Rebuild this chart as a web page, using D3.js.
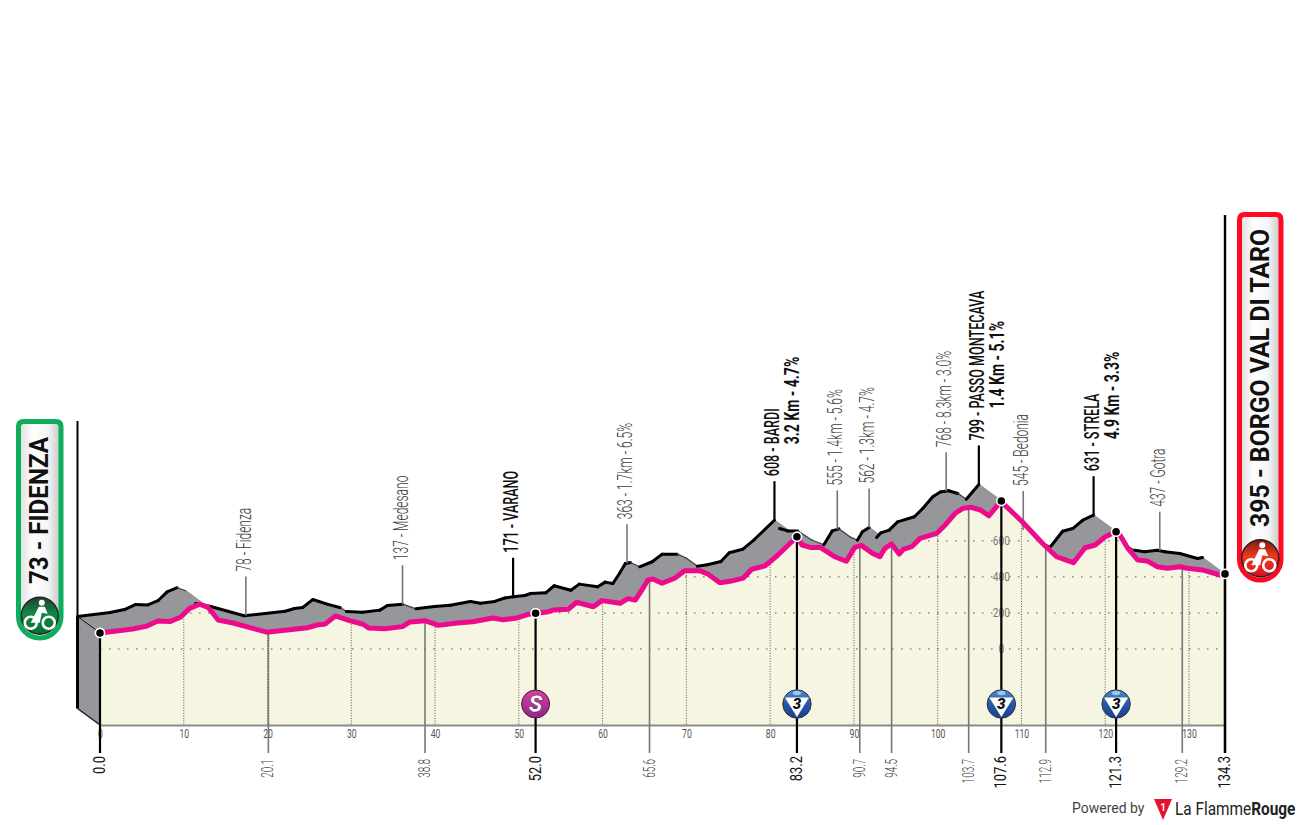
<!DOCTYPE html>
<html>
<head>
<meta charset="utf-8">
<title>Fidenza - Borgo Val di Taro</title>
<script src="https://cdn.jsdelivr.net/npm/d3@7"></script>
<style>
html, body { margin: 0; padding: 0; background: #fff; }
svg { display: block; }
text { font-family: Roboto, "Liberation Sans", sans-serif; }
</style>
</head>
<body>
<svg></svg>
<script>
// profile: km and altitude in metres
var profileKm = [0, 3.9, 5.6, 6.9, 8.4, 9.6, 10.7, 11.9, 12.9, 14.1, 15.9, 19.9, 24.8, 25.9, 26.9, 28.1, 29.8, 31.4, 32.1, 34.0,
    36.1, 37.0, 38.8, 40.4, 42.6, 44.5, 46.9, 48.1, 49.8, 51.0, 52.0, 53.4, 54.1, 55.9, 56.9, 58.9, 59.9, 62.1, 63.0, 63.9,
    64.7, 65.4, 66.0, 67.1, 68.6, 69.8, 71.6, 72.6, 74.0, 75.2, 76.8, 77.8, 79.4, 80.8, 83.2, 83.8, 84.8, 86.0, 87.7, 89.1,
    90.1, 90.9, 92.2, 93.1, 93.7, 94.5, 95.4, 95.9, 96.9, 97.9, 99.9, 100.9, 102.1, 103.0, 104.0, 105.1, 106.1, 107.6, 108.0, 110.1,
    112.5, 114.2, 116.2, 117.6, 118.8, 120.0, 121.3, 121.8, 122.7, 123.9, 125.0, 126.2, 127.4, 128.9, 129.8, 131.6, 133.7, 134.3];
var profileAlt = [89, 111, 127, 155, 153, 176, 225, 248, 231, 161, 144, 93, 118, 133, 139, 183, 157, 137, 116, 112,
    124, 150, 157, 131, 144, 151, 172, 162, 172, 191, 198, 205, 216, 220, 259, 234, 268, 253, 279, 271,
    327, 382, 388, 364, 392, 434, 434, 414, 367, 375, 393, 442, 461, 515, 622, 576, 563, 563, 511, 486,
    563, 574, 530, 511, 558, 582, 526, 552, 567, 613, 641, 687, 752, 779, 785, 770, 738, 820, 798, 705,
    586, 511, 478, 561, 576, 622, 650, 628, 558, 493, 488, 456, 447, 456, 447, 438, 410, 416];

// km marks under the axis and what is written above them
var markKm = [0, 20.1, 38.8, 52.0, 65.6, 83.2, 90.7, 94.5, 103.7, 107.6, 112.9, 121.3, 129.2, 134.3];
var markLabel = ["0.0", "20.1", "38.8", "52.0", "65.6", "83.2", "90.7", "94.5", "103.7", "107.6", "112.9", "121.3", "129.2", "134.3"];
var markStrong = [1, 0, 0, 1, 0, 1, 0, 0, 0, 1, 0, 1, 0, 1];
var placeName = ["", "78 - Fidenza", "137 - Medesano", "171 - VARANO", "363 - 1.7km - 6.5%", "608 - BARDI", "555 - 1.4km - 5.6%",
    "562 - 1.3km - 4.7%", "768 - 8.3km - 3.0%", "799 - PASSO MONTECAVA", "545 - Bedonia", "631 - STRELA", "437 - Gotra", ""];
var placeClimb = ["", "", "", "", "", "3.2 Km - 4.7%", "", "", "", "1.4 Km - 5.1%", "", "4.9 Km - 3.3%", "", ""];

var kmTicks = d3.range(0, 131, 10);
var altTicks = [0, 200, 400, 600];
var dotKm = [0, 52.0, 83.2, 107.6, 121.3, 134.3];
var sprintKm = [52.0];
var climbKm = [83.2, 107.6, 121.3];
var startText = "73 - FIDENZA";
var finishText = "395 - BORGO VAL DI TARO";

var svgWidth = 1300, svgHeight = 825;
var svg = d3.select("svg").attr("width", svgWidth).attr("height", svgHeight);

var x = d3.scaleLinear().domain([0, 134.3]).range([100, 1225]);
var y = d3.scaleLinear().domain([0, 600]).range([649, 540.7]);
var altAt = d3.scaleLinear().domain(profileKm).range(profileAlt);

var floorAlt = -421;           // altitude of the bottom line
var dx = -22.5, dy = -16.5;    // shift of the grey back edge
var spikeEnd = 753;

var pts = profileKm.map(function(k, i) { return { km: k, alt: profileAlt[i] }; });
var line = d3.line().x(function(d) { return x(d.km); }).y(function(d) { return y(d.alt); });
var area = d3.area().x(function(d) { return x(d.km); }).y0(y(floorAlt)).y1(function(d) { return y(d.alt); });

var defs = svg.append("defs");
defs.append("clipPath").attr("id", "under").append("path").attr("d", area(pts));

function grad(id, tag, stops, attrs) {
    var g = defs.append(tag).attr("id", id);
    for (var a in attrs) g.attr(a, attrs[a]);
    stops.forEach(function(s) {
        g.append("stop").attr("offset", s[0]).attr("stop-color", s[1]);
    });
}
grad("pillFill", "linearGradient", [[0, "#dcdcdc"], [0.35, "#ffffff"], [0.7, "#f4f4f4"], [1, "#c4c4c4"]], { x1: 0, x2: 1, y1: 0, y2: 0 });
grad("startBall", "linearGradient", [[0, "#2a3d30"], [0.45, "#0f8a45"], [1, "#0a6a33"]], { x1: 0, x2: 0, y1: 0, y2: 1 });
grad("finishBall", "linearGradient", [[0, "#7a1a14"], [0.45, "#f03b1c"], [1, "#d80f25"]], { x1: 0, x2: 0, y1: 0, y2: 1 });
grad("sprintBall", "linearGradient", [[0, "#e03aa4"], [1, "#8f2490"]], { x1: 0, x2: 0, y1: 0, y2: 1 });
grad("climbBall", "linearGradient", [[0, "#4f8fd0"], [0.5, "#2458a8"], [1, "#1d3f8e"]], { x1: 0, x2: 0, y1: 0, y2: 1 });

// rotated, condensed text
function vText(px, py, txt, size, weight, fill, anchor, squeeze) {
    return svg.append("text")
        .attr("transform", "translate(" + px + "," + py + ") rotate(-90) scale(" + squeeze + ",1)")
        .attr("font-size", size)
        .attr("font-weight", weight)
        .attr("fill", fill)
        .attr("text-anchor", anchor || "start")
        .text(txt);
}

// grey extruded band
var band = svg.append("g");
d3.pairs(pts).forEach(function(p) {
    var x0 = x(p[0].km), y0 = y(p[0].alt), x1 = x(p[1].km), y1 = y(p[1].alt);
    band.append("path")
        .attr("d", d3.line()([[x0, y0], [x1, y1], [x1 + dx, y1 + dy], [x0 + dx, y0 + dy]]) + "Z")
        .attr("fill", "#96979b")
        .attr("stroke", "#96979b")
        .attr("stroke-width", 1.2)
        .attr("stroke-linejoin", "round");
});

// side face at the start
svg.append("path")
    .attr("d", d3.line()([[x(0), y(pts[0].alt)], [x(0) + dx, y(pts[0].alt) + dy], [x(0) + dx, y(floorAlt) + dy], [x(0), y(floorAlt)]]))
    .attr("fill", "#96979b")
    .attr("stroke", "none");
svg.append("path")
    .attr("d", d3.line()([[x(0), y(pts[0].alt)], [x(0) + dx, y(pts[0].alt) + dy]]))
    .attr("stroke", "#111").attr("stroke-width", 1);
svg.append("path")
    .attr("d", d3.line()([[x(0) + dx, y(floorAlt) + dy], [x(0), y(floorAlt)]]))
    .attr("stroke", "#111").attr("stroke-width", 1.2);
svg.append("line")
    .attr("x1", x(0) + dx).attr("x2", x(0) + dx).attr("y1", 421).attr("y2", y(pts[0].alt) + dy)
    .attr("stroke", "#000").attr("stroke-width", 2);
svg.append("line")
    .attr("x1", x(0) + dx).attr("x2", x(0) + dx).attr("y1", y(pts[0].alt) + dy).attr("y2", y(floorAlt) + dy)
    .attr("stroke", "#000").attr("stroke-width", 3);

// black edge, only where the slope faces the viewer
d3.pairs(pts).forEach(function(p) {
    var x0 = x(p[0].km), y0 = y(p[0].alt), x1 = x(p[1].km), y1 = y(p[1].alt);
    var slope = (y1 - y0) / (x1 - x0);
    if (slope > 0.73) return;
    svg.append("line")
        .attr("x1", x0 + dx).attr("y1", y0 + dy).attr("x2", x1 + dx).attr("y2", y1 + dy)
        .attr("stroke", slope > 0.35 ? "#444" : "#000")
        .attr("stroke-width", slope > 0.35 ? 1.2 : 3)
        .attr("stroke-linecap", "round");
});

// cream face
svg.append("path").attr("d", area(pts)).attr("fill", "#f5f5e2");

// dotted grid, clipped to the face
var grid = svg.append("g").attr("clip-path", "url(#under)");
grid.selectAll("line.alt").data(altTicks).enter().append("line")
    .attr("class", "alt")
    .attr("x1", x(0)).attr("x2", x(134.3))
    .attr("y1", function(d) { return y(d); }).attr("y2", function(d) { return y(d); })
    .attr("stroke", "#8a8a80").attr("stroke-width", 1.5).attr("stroke-dasharray", "1.5 7.5");
grid.selectAll("line.km").data(kmTicks.slice(1)).enter().append("line")
    .attr("class", "km")
    .attr("x1", function(d) { return x(d); }).attr("x2", function(d) { return x(d); })
    .attr("y1", y(900)).attr("y2", y(floorAlt))
    .attr("stroke", "#55554e").attr("stroke-width", 1).attr("stroke-dasharray", "1 1.6");

// bottom axis, km numbers
var axisKm = svg.append("g")
    .attr("transform", "translate(0," + y(floorAlt) + ")")
    .call(d3.axisBottom(x).tickValues(kmTicks).tickSize(0).tickPadding(0).tickFormat(d3.format("d")));
axisKm.select(".domain").attr("stroke", "#8c8c84").attr("stroke-width", 2);
axisKm.selectAll("text")
    .attr("font-family", "Roboto")
    .attr("font-size", 12)
    .attr("fill", "#555")
    .attr("y", 0)
    .attr("dy", 0)
    .attr("transform", "translate(0,13) scale(0.72,1)");

// altitude numbers sit on the climb spike
var axisAlt = svg.append("g")
    .attr("transform", "translate(" + x(107.6) + ",0)")
    .call(d3.axisRight(y).tickValues(altTicks).tickSize(0).tickPadding(0).tickFormat(d3.format("d")));
axisAlt.select(".domain").remove();
axisAlt.selectAll("text")
    .attr("font-family", "Roboto")
    .attr("font-size", 12)
    .attr("fill", "#777")
    .attr("x", 0)
    .attr("text-anchor", "middle")
    .attr("transform", "scale(0.85,1)");

// spikes, leaders and labels
markKm.forEach(function(k, i) {
    var strong = markStrong[i] === 1;
    var colour = strong ? "#000" : "#777";
    var px = x(k), py = y(altAt(k));

    svg.append("line")
        .attr("x1", px).attr("x2", px).attr("y1", py).attr("y2", spikeEnd)
        .attr("stroke", colour).attr("stroke-width", strong ? 2.2 : 1.6);

    vText(px + 5, strong ? 756 : 759, markLabel[i], strong ? 17 : 16, strong ? 400 : 300, strong ? "#111" : "#444", "end", strong ? 0.76 : 0.62);

    if (placeName[i] === "") return;
    var lx = px + dx, ly = py + dy;
    svg.append("line")
        .attr("x1", lx).attr("x2", lx).attr("y1", ly).attr("y2", ly - 39)
        .attr("stroke", strong ? "#000" : "#777").attr("stroke-width", strong ? 2.2 : 1.6);
    vText(lx + 5, ly - 44, placeName[i], 20, strong ? 500 : 300, strong ? "#111" : "#3c3c3c", "start", strong ? 0.63 : 0.6);
    if (placeClimb[i] !== "") {
        vText(lx + 25, ly - 44 - 32, placeClimb[i], 20, 700, "#111", "start", 0.7);
    }
});

// finish line
svg.append("line")
    .attr("x1", x(134.3)).attr("x2", x(134.3)).attr("y1", 215).attr("y2", spikeEnd)
    .attr("stroke", "#000").attr("stroke-width", 2.4);

// pink road
svg.append("path")
    .attr("d", line(pts))
    .attr("fill", "none")
    .attr("stroke", "#ee0a8c")
    .attr("stroke-width", 5)
    .attr("stroke-linejoin", "round")
    .attr("stroke-linecap", "round");

svg.selectAll("circle.dot").data(dotKm).enter().append("circle")
    .attr("class", "dot")
    .attr("cx", function(d) { return x(d); })
    .attr("cy", function(d) { return y(altAt(d)); })
    .attr("r", 4.6)
    .attr("fill", "#000")
    .attr("stroke", "#fff")
    .attr("stroke-width", 1.6);

// sprint and climb badges
var badgeY = 704;
sprintKm.forEach(function(k) {
    var g = svg.append("g").attr("transform", "translate(" + x(k) + "," + badgeY + ")");
    g.append("circle").attr("r", 14).attr("fill", "url(#sprintBall)").attr("stroke", "#33222f").attr("stroke-width", 1);
    g.append("text").attr("text-anchor", "middle").attr("y", 8).attr("font-size", 23).attr("font-style", "italic")
        .attr("font-weight", 900).attr("fill", "#fff").attr("stroke", "#30202c").attr("stroke-width", 0.5).text("S");
});
climbKm.forEach(function(k) {
    var g = svg.append("g").attr("transform", "translate(" + x(k) + "," + badgeY + ")");
    g.append("circle").attr("r", 14.2).attr("fill", "url(#climbBall)").attr("stroke", "#2b3340").attr("stroke-width", 1);
    g.append("ellipse").attr("cy", -11).attr("rx", 4).attr("ry", 2.2).attr("fill", "#9cc6ea");
    g.append("path").attr("d", "M-12,-6.5L12,-6.5L0,13Z").attr("fill", "#fff");
    g.append("text").attr("text-anchor", "middle").attr("y", 5).attr("font-size", 15).attr("font-style", "italic")
        .attr("font-weight", 900).attr("fill", "#111").text("3");
});

// end pills
function pillPath(x0, y0, x1, y1, rTop) {
    var rb = (x1 - x0) / 2;
    return "M" + x0 + "," + (y0 + rTop) + "Q" + x0 + "," + y0 + " " + (x0 + rTop) + "," + y0 +
        "L" + (x1 - rTop) + "," + y0 + "Q" + x1 + "," + y0 + " " + x1 + "," + (y0 + rTop) +
        "L" + x1 + "," + (y1 - rb) + "A" + rb + "," + rb + " 0 0 1 " + x0 + "," + (y1 - rb) + "Z";
}
function rider(g) {
    g.append("circle").attr("cx", -9).attr("cy", 7).attr("r", 6).attr("fill", "none").attr("stroke", "#fff").attr("stroke-width", 2.6);
    g.append("circle").attr("cx", 9).attr("cy", 7).attr("r", 6).attr("fill", "none").attr("stroke", "#fff").attr("stroke-width", 2.6);
    g.append("circle").attr("cx", 2).attr("cy", -13).attr("r", 3).attr("fill", "#fff");
    g.append("path").attr("d", "M-9,7L-1,-9L5,-9L8,-2L2,-3L0,7Z").attr("fill", "#fff");
}
function pill(x0, y0, x1, y1, colour, ball, txt, textEnd, squeeze) {
    var cx = (x0 + x1) / 2;
    svg.append("path").attr("d", pillPath(x0, y0, x1, y1, 5)).attr("fill", "url(#pillFill)").attr("stroke", colour).attr("stroke-width", 5);
    var g = svg.append("g").attr("transform", "translate(" + cx + "," + (y1 - (x1 - x0) / 2 - 1) + ")");
    g.append("circle").attr("r", 18.5).attr("fill", "url(#" + ball + ")").attr("stroke", "#222").attr("stroke-width", 1.4);
    rider(g);
    svg.append("text")
        .attr("transform", "translate(" + (cx + 8.5) + "," + textEnd + ") rotate(-90) scale(" + squeeze + ",1)")
        .attr("font-size", 26)
        .attr("font-weight", 700)
        .attr("font-family", "Liberation Sans")
        .attr("fill", "#111")
        .text(txt);
}
pill(18.5, 421.5, 61, 638, "#0cae5c", "startBall", startText, 584, 0.93);
pill(1239.5, 214.5, 1281, 580, "#ff0a25", "finishBall", finishText, 527, 0.955);

// footer
svg.append("text").attr("x", 1072).attr("y", 813).attr("font-size", 14).attr("font-family", "Inter").attr("fill", "#444").text("Powered by");
svg.append("path").attr("d", "M1154,799L1172,799L1163,820Z").attr("fill", "#e8112d");
svg.append("text").attr("x", 1163).attr("y", 811).attr("text-anchor", "middle").attr("font-size", 10).attr("font-weight", 700).attr("fill", "#fff").text("1");
var brand = svg.append("text").attr("transform", "translate(1175,815) scale(0.81,1)").attr("font-size", 19).attr("font-family", "Inter").attr("fill", "#222");
brand.append("tspan").text("La Flamme");
brand.append("tspan").attr("font-weight", 700).text("Rouge");
</script>
</body>
</html>
